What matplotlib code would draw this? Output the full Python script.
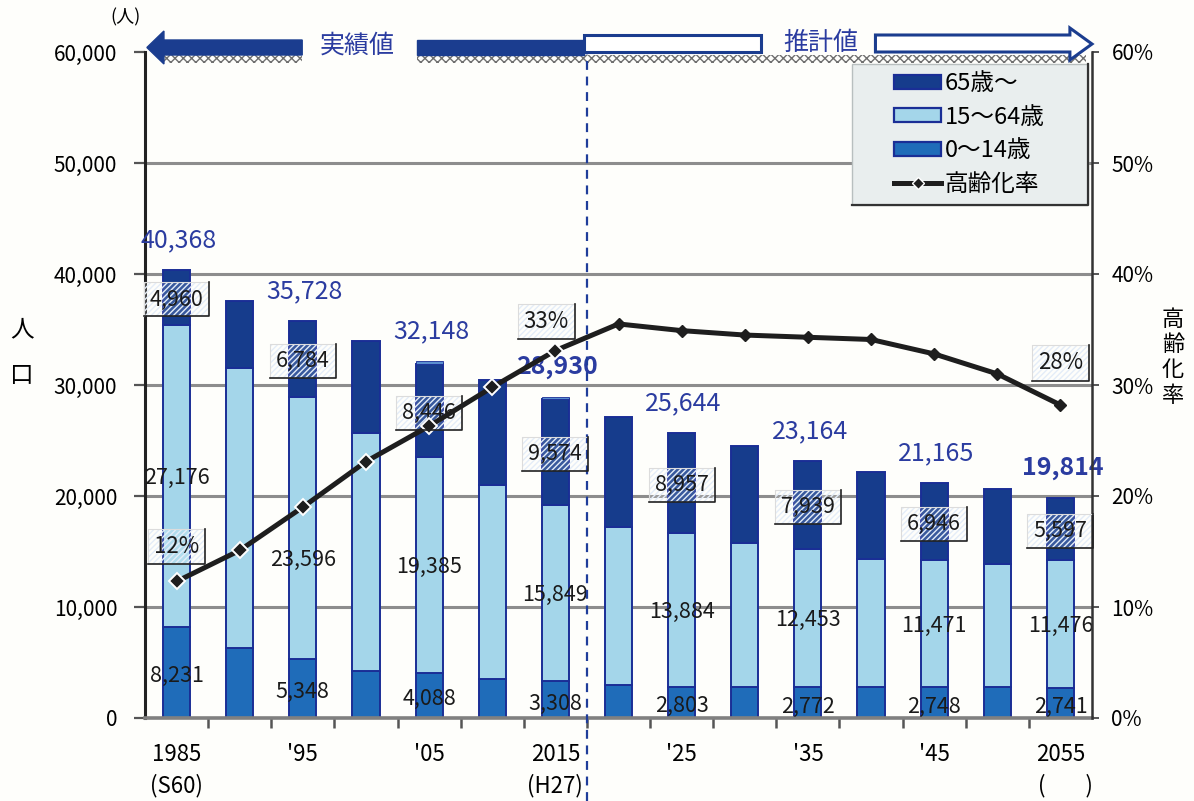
import matplotlib
matplotlib.use("Agg")
import matplotlib.pyplot as plt
import matplotlib.transforms as mtransforms
from matplotlib.patches import Rectangle, Polygon, Patch
from matplotlib.lines import Line2D

plt.rcParams["font.family"] = ["Noto Sans CJK JP", "DejaVu Sans"]

# 年齢3区分別人口（人）と高齢化率（%）
years = [1985, 1990, 1995, 2000, 2005, 2010, 2015, 2020,
         2025, 2030, 2035, 2040, 2045, 2050, 2055]
age_0_14 = [8231, 6330, 5348, 4250, 4088, 3550, 3308, 2950,
            2803, 2750, 2772, 2750, 2748, 2750, 2741]
age_15_64 = [27176, 25170, 23596, 21450, 19385, 17400, 15849, 14250,
             13884, 13000, 12453, 11600, 11471, 11150, 11476]
age_65 = [4960, 6100, 6784, 8250, 8446, 9500, 9574, 9900,
          8957, 8750, 7939, 7800, 6946, 6750, 5597]
age_unknown = [1, 0, 0, 0, 229, 0, 199, 0, 0, 0, 0, 0, 0, 0, 0]
aging_rate = [12.3, 15.1, 19.0, 23.1, 26.3, 29.8, 33.1, 35.5,
              34.9, 34.5, 34.3, 34.1, 32.8, 31.0, 28.2]

xtick_labels = ["1985\n(S60)", "", "'95", "", "'05", "", "2015\n(H27)", "",
                "'25", "", "'35", "", "'45", "", "2055\n  (        )"]
labeled = [0, 2, 4, 6, 8, 10, 12, 14]      # 数値を表示する年
bold_totals = [6, 14]                       # 基準年・最終年
rate_labels = {0: "12%", 6: "33%", 14: "28%"}

C65 = "#163c8c"
C1564 = "#a4d6ea"
C014 = "#1f6cb9"
CUNK = "#5a8fd0"
EDGE = "#1a2e96"
BLUE_TXT = "#2b3ca0"

x = list(range(len(years)))
top_1564 = [a + b for a, b in zip(age_0_14, age_15_64)]
top_65 = [a + b for a, b in zip(top_1564, age_65)]
totals = [a + b for a, b in zip(top_65, age_unknown)]

fig = plt.figure(figsize=(11.94, 8.01), dpi=100, facecolor="#fefefb")
ax = fig.add_axes([145 / 1194, 1 - 718 / 801, 947 / 1194, 666 / 801])
ax.set_facecolor("none")
ax2 = ax.twinx()

# 横線（60,000の線はバナーの下になるので引かない）
for yv in range(10000, 60000, 10000):
    ax.axhline(yv, color="#8d8d8d", lw=2.2, zorder=0)

w = 0.43
ax.bar(x, age_0_14, w, color=C014, edgecolor=EDGE, lw=1.4, zorder=2)
ax.bar(x, age_15_64, w, bottom=age_0_14, color=C1564, edgecolor=EDGE, lw=1.4, zorder=2)
ax.bar(x, age_65, w, bottom=top_1564, color=C65, edgecolor=EDGE, lw=1.4, zorder=2)
ax.bar(x, age_unknown, w, bottom=top_65, color=CUNK, edgecolor=EDGE, lw=0.6, zorder=2)

ax.set_xlim(-0.5, 14.5)
ax.set_ylim(0, 60000)
ax.set_yticks(range(0, 60001, 10000))
ax.set_yticklabels([f"{v:,}" for v in range(0, 60001, 10000)], fontsize=15)
ax.set_xticks(x)
ax.set_xticklabels(xtick_labels, fontsize=16, linespacing=1.4)
ax.set_xticks([i + 0.5 for i in range(14)], minor=True)
ax.tick_params(axis="x", which="major", length=0, pad=18)
ax.tick_params(axis="x", which="minor", length=7, width=1.8, color="#555555", direction="out")
ax.tick_params(axis="y", length=8, width=1.6, color="#555555", pad=12)

ax2.set_ylim(0, 60)
ax2.set_yticks(range(0, 61, 10))
ax2.set_yticklabels([f"{v}%" for v in range(0, 61, 10)], fontsize=15)
ax2.tick_params(axis="y", length=5, width=1.4, color="#555555", pad=9)

for s in ["top", "right"]:
    ax.spines[s].set_visible(False)
for s in ["top", "left", "bottom"]:
    ax2.spines[s].set_visible(False)
ax.spines["left"].set_linewidth(2.2)
ax.spines["left"].set_color("#222222")
ax.spines["bottom"].set_linewidth(2.6)
ax.spines["bottom"].set_color("#808080")
ax2.spines["right"].set_linewidth(1.8)
ax2.spines["right"].set_color("#333333")

# 高齢化率（実績部分の点は白縁つき）
ax2.plot(x, aging_rate, color="#1e1e1e", lw=3.6, zorder=5)
ax2.plot(x[:7], aging_rate[:7], ls="none", marker="D", ms=8,
         mfc="#1e1e1e", mec="white", mew=1.4, zorder=5)
ax2.plot(x[7:], aging_rate[7:], ls="none", marker="D", ms=6.5,
         mfc="#1e1e1e", mec="#1e1e1e", zorder=5)

boxed = []
box_style = dict(boxstyle="square,pad=0.28", facecolor=(1, 1, 1, 0.15),
                 edgecolor="#e4edf8", hatch="//////", linewidth=0)

for i in labeled:
    # 総人口
    bold = i in bold_totals
    ax.annotate(f"{totals[i]:,}", (i, totals[i]), xytext=(2, 30), textcoords="offset pixels",
                ha="center", va="center", fontsize=18, color=BLUE_TXT,
                fontweight="bold" if bold else "normal", zorder=4)
    # 65歳以上
    t = ax.annotate(f"{age_65[i]:,}", (i, top_1564[i] + age_65[i] / 2), xytext=(0, -2),
                    textcoords="offset pixels", ha="center", va="center", fontsize=15.5,
                    color="#1a1a1a", zorder=4, bbox=box_style)
    boxed.append(t)
    # 15～64歳
    dy = -32 if i == 2 else -2
    ax.annotate(f"{age_15_64[i]:,}", (i, age_0_14[i] + age_15_64[i] / 2), xytext=(0, dy),
                textcoords="offset pixels", ha="center", va="center", fontsize=15.5,
                color="#1a1a1a", zorder=4)
    # 0～14歳
    ax.annotate(f"{age_0_14[i]:,}", (i, age_0_14[i] / 2), xytext=(0, -4),
                textcoords="offset pixels", ha="center", va="center", fontsize=15.5,
                color="#1a1a1a", zorder=4)

rate_offsets = {0: (0, 35), 6: (-9, 29), 14: (0, 42)}
for i, txt in rate_labels.items():
    t = ax2.annotate(txt, (i, aging_rate[i]), xytext=rate_offsets[i], textcoords="offset pixels",
                     ha="center", va="center", fontsize=16, color="#1a1a1a", zorder=6,
                     bbox=box_style)
    boxed.append(t)

# 実績値／推計値のバナー
tr = mtransforms.blended_transform_factory(ax.transData, ax.transAxes)


def yf(py):
    return (718 - py) / 666


navy = "#1b3d8f"
ax2.add_patch(Polygon([(-0.47, yf(47.5)), (-0.2, yf(31)), (-0.2, yf(40)), (1.99, yf(40)),
                       (1.99, yf(55)), (-0.2, yf(55)), (-0.2, yf(64))],
                      closed=True, transform=tr, facecolor=navy, edgecolor=navy,
                      clip_on=False, zorder=8))
ax2.add_patch(Rectangle((3.81, yf(55)), 6.46 - 3.81, yf(40) - yf(55), transform=tr,
                        facecolor=navy, edgecolor=navy, clip_on=False, zorder=8))
for x0, x1 in [(-0.22, 1.99), (3.81, 14.4)]:
    ax2.add_patch(Rectangle((x0, yf(63)), x1 - x0, yf(55) - yf(63), transform=tr,
                            facecolor="none", edgecolor="#6f6f6f", hatch="xxxx", lw=0,
                            clip_on=False, zorder=7))
ax2.add_patch(Rectangle((6.46, yf(52)), 9.26 - 6.46, yf(35) - yf(52), transform=tr,
                        facecolor="white", edgecolor=navy, lw=2.2, clip_on=False, zorder=8))
ax2.add_patch(Polygon([(11.07, yf(35)), (14.15, yf(35)), (14.15, yf(28)), (14.5, yf(44)),
                       (14.15, yf(60)), (14.15, yf(52)), (11.07, yf(52))],
                      closed=True, transform=tr, facecolor="white", edgecolor=navy, lw=2.2,
                      clip_on=False, zorder=8))
ax2.text(2.86, yf(46), "実績値", transform=tr, ha="center", va="center", fontsize=18,
         color=BLUE_TXT, zorder=9, clip_on=False)
ax2.text(10.2, yf(43), "推計値", transform=tr, ha="center", va="center", fontsize=18,
         color=BLUE_TXT, zorder=9, clip_on=False)

ax2.axvline(6.5, ymin=yf(801), ymax=yf(35), color="#1f3d9a", lw=1.6,
            ls=(0, (4, 3)), clip_on=False, zorder=7)

# 凡例
ax2.add_patch(Rectangle(((852 - 145) / 947, yf(205)), (1088 - 852) / 947, yf(64) - yf(205),
                        transform=ax.transAxes, facecolor="#e9eeee", edgecolor="#b8bfbf",
                        lw=1, zorder=9))
ax2.plot([(1088 - 145) / 947] * 2 + [(852 - 145) / 947],
         [yf(64), yf(205), yf(205)], transform=ax.transAxes, color="#333333", lw=1.6,
         zorder=10, clip_on=False)
handles = [
    Patch(facecolor=C65, edgecolor=EDGE, lw=1.6),
    Patch(facecolor=C1564, edgecolor=EDGE, lw=1.6),
    Patch(facecolor=C014, edgecolor=EDGE, lw=1.6),
    Line2D([], [], color="#1e1e1e", lw=3.6, marker="D", ms=6, mfc="#1e1e1e", mec="white"),
]
leg = ax2.legend(handles, ["65歳～", "15～64歳", "0～14歳", "高齢化率"],
                 loc="upper left", bbox_to_anchor=((894 - 145) / 947, yf(72)),
                 frameon=False, fontsize=17, borderpad=0, borderaxespad=0,
                 handlelength=2.0, handleheight=0.55, handletextpad=0.15, labelspacing=0.45)
leg.set_zorder(11)

# 軸タイトル
fig.text(125 / 1194, 1 - 17 / 801, "(人)", ha="center", va="center", fontsize=13)
fig.text(22 / 1194, 1 - 330 / 801, "人", ha="center", va="center", fontsize=17)
fig.text(22 / 1194, 1 - 375 / 801, "口", ha="center", va="center", fontsize=17)
for k, ch in enumerate("高齢化率"):
    fig.text(1173 / 1194, 1 - (320 + 25 * k) / 801, ch, ha="center", va="center", fontsize=16)

# 値ラベルの枠（右と下だけ濃い線）
fig.canvas.draw()
renderer = fig.canvas.get_renderer()
inv = fig.transFigure.inverted()
for t in boxed:
    bb = t.get_bbox_patch().get_window_extent(renderer)
    (x0, y0), (x1, y1) = inv.transform([(bb.x0, bb.y0), (bb.x1, bb.y1)])
    fig.add_artist(Line2D([x0, x0, x1], [y0, y1, y1], color="#dcdcdc", lw=0.8, zorder=6))
    fig.add_artist(Line2D([x0, x1, x1], [y0, y0, y1], color="#222222", lw=1.2, zorder=6))

fig.savefig("out.png", dpi=100, facecolor=fig.get_facecolor())
